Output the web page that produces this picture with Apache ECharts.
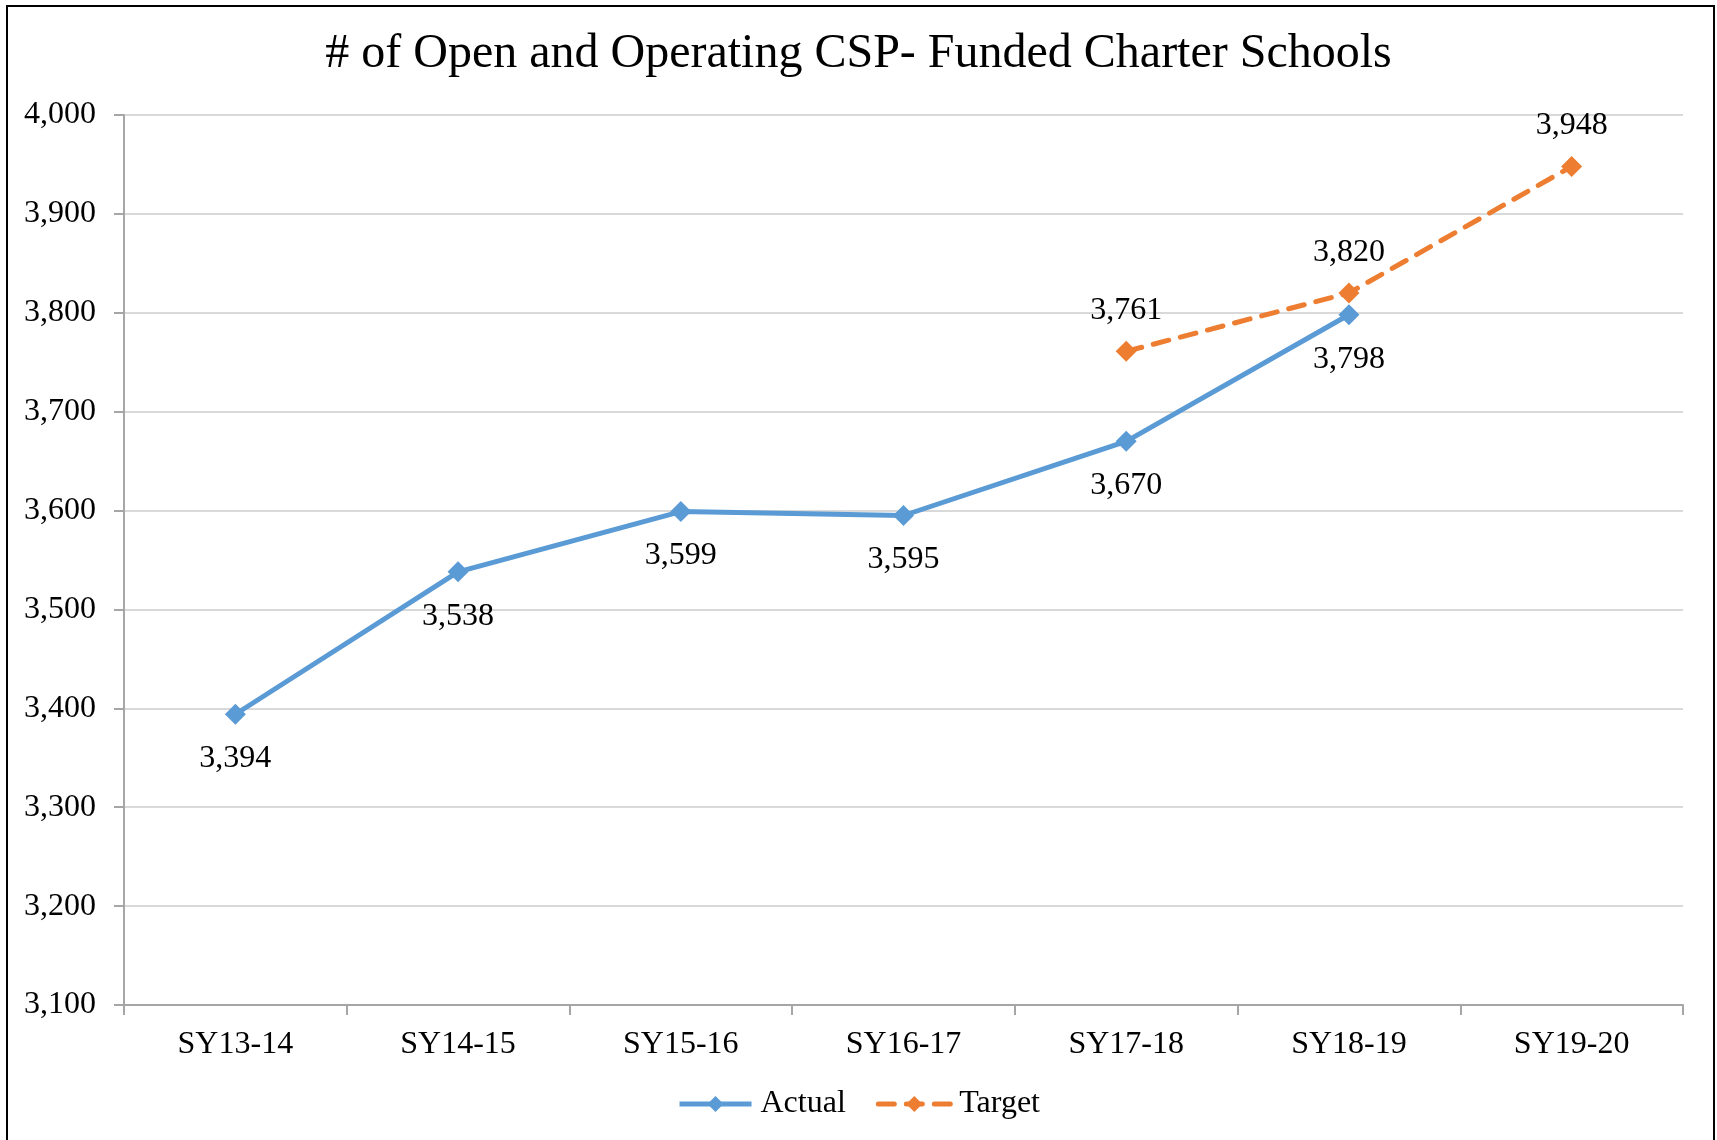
<!DOCTYPE html>
<html>
<head>
<meta charset="utf-8">
<script src="https://cdn.jsdelivr.net/npm/echarts@6/dist/echarts.min.js"></script>
<style>
  html, body { margin: 0; padding: 0; background: #fff; }
  #chart { width: 1717px; height: 1140px; }
</style>
</head>
<body>
<div id="chart"></div>
<script>
const categories = ["SY13-14", "SY14-15", "SY15-16", "SY16-17", "SY17-18", "SY18-19", "SY19-20"];
const actual = [3394, 3538, 3599, 3595, 3670, 3798, null];
const target = [null, null, null, null, 3761, 3820, 3948];

const fontFam = "'Liberation Serif', 'Times New Roman', serif";
const fmt = v => v.toLocaleString("en-US");

const myChart = echarts.init(document.getElementById("chart"));
myChart.setOption({
  backgroundColor: "#fff",
  animation: false,
  textStyle: { fontFamily: fontFam, color: "#000" },
  title: {
    text: "# of Open and Operating CSP- Funded Charter Schools",
    left: "center",
    top: 25,
    textStyle: { fontFamily: fontFam, fontSize: 48, fontWeight: "normal", color: "#000" }
  },
  graphic: [
    {
      type: "rect",
      shape: { x: 7, y: 6, width: 1707, height: 1200 },
      style: { fill: "none", stroke: "#000", lineWidth: 2 },
      silent: true
    }
  ],
  legend: {
    bottom: 15,
    left: "center",
    itemWidth: 72,
    itemHeight: 20,
    itemGap: 30,
    textStyle: { fontFamily: fontFam, fontSize: 32, color: "#000", padding: [0, 0, 0, 4] },
    lineStyle: { width: 5 },
    data: ["Actual", "Target"]
  },
  grid: { left: 124, right: 34, top: 115, bottom: 135 },
  xAxis: {
    type: "category",
    data: categories,
    boundaryGap: true,
    axisLine: { lineStyle: { color: "#a6a6a6", width: 2 } },
    axisTick: { show: true, length: 10, lineStyle: { color: "#a6a6a6", width: 2 } },
    axisLabel: { margin: 24, fontSize: 32, color: "#000", fontFamily: fontFam }
  },
  yAxis: {
    type: "value",
    min: 3100,
    max: 4000,
    interval: 100,
    axisLine: { show: true, lineStyle: { color: "#a6a6a6", width: 2 } },
    axisTick: { show: true, length: 10, lineStyle: { color: "#a6a6a6", width: 2 } },
    axisLabel: { margin: 28, fontSize: 32, color: "#000", fontFamily: fontFam, formatter: fmt },
    splitLine: { lineStyle: { color: "#d9d9d9", width: 2 } }
  },
  series: [
    {
      name: "Actual",
      type: "line",
      data: actual,
      symbol: "diamond",
      symbolSize: 21,
      lineStyle: { color: "#5b9bd5", width: 5 },
      itemStyle: { color: "#5b9bd5" },
      label: {
        show: true,
        position: "bottom",
        distance: 18,
        fontSize: 32,
        color: "#000",
        fontFamily: fontFam,
        formatter: p => fmt(p.value)
      }
    },
    {
      name: "Target",
      type: "line",
      data: target,
      symbol: "diamond",
      symbolSize: 21,
      lineStyle: { color: "#ed7d31", width: 5, type: [16, 12], cap: "round" },
      itemStyle: { color: "#ed7d31" },
      label: {
        show: true,
        position: "top",
        distance: 14,
        fontSize: 32,
        color: "#000",
        fontFamily: fontFam,
        formatter: p => fmt(p.value)
      }
    }
  ]
});
</script>
</body>
</html>
